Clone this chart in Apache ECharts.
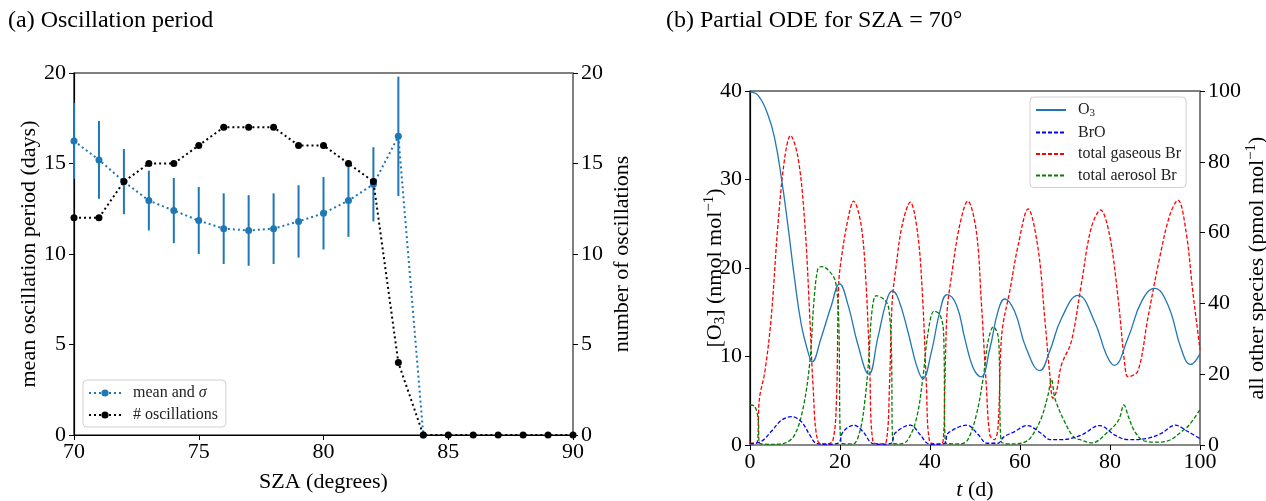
<!DOCTYPE html>
<html>
<head>
<meta charset="utf-8">
<script src="https://cdn.jsdelivr.net/npm/echarts@6/dist/echarts.min.js"></script>
<style>html,body{margin:0;padding:0;background:#fff}#c{width:1266px;height:501px}</style>
</head>
<body>
<div id="c"></div>
<script>
// ---------- Panel (a) data ----------
const sza = [70,71,72,73,74,75,76,77,78,79,80,81,82,83,84,85,86,87,88,89,90];
const meanPeriod = [16.25,15.2,14.0,12.95,12.4,11.85,11.4,11.3,11.4,11.8,12.25,12.95,13.85,16.5,0];
const sigmaPeriod = [2.1,2.15,1.8,1.65,1.8,1.85,1.95,1.95,1.95,2.0,2.0,2.0,2.05,3.3,0];
const numOsc = [12,12,14,15,15,16,17,17,17,16,16,15,14,4,0,0,0,0,0,0,0];

// ---------- Panel (b) data ----------
const o3T = [0,1.8,4,5.5,7,8.4,9.9,11.4,12.9,13.8,15.8,18.1,19.9,21.8,24,26.4,28.4,30.3,31.6,32.9,35.1,37,38.4,40.3,42.2,43.8,45.9,47.7,49.6,51.3,53.3,55.1,56.6,58.8,61.4,64.4,66.6,69.2,72.9,76.6,79.2,80.9,84,87,89.9,92.9,95.8,97.9,100];
const o3V = [39.9,39.5,37.3,34.6,30.1,24.9,18.8,13.6,10.5,9.4,12.1,15.8,18.2,15.8,11.3,8.0,12.1,16.2,17.4,16.6,12.8,9.0,7.5,10.5,15.1,17.0,15.8,12.1,8.7,7.7,10.9,15.1,16.5,15.1,10.9,8.4,10.6,14.3,16.9,13.9,10.2,9.0,12.1,16.2,17.7,15.8,10.9,9.1,10.3];

const brT = [0,2.5,4.7,7,9.2,11.4,13.3,14.7,17,19.6,20.7,23.1,25.1,27.1,29,31.4,32.2,35.6,37.9,39.4,41.5,43.3,44,48.2,50.8,52.6,55.1,56.4,58.8,61.6,64.7,66.7,69.2,73.6,77.7,81.1,84,88.4,91.4,94.5,97.3,100];
const brV = [0.3,1,3.8,7,8,6.6,2.8,0.5,0.2,0.5,3.8,5.6,3.8,0.5,0.2,0.5,3.3,5.6,2.8,0.5,0.2,0.5,3.3,5.6,2.8,0.5,0.5,2.3,3.8,5.5,3.3,1.5,1.5,2.8,5.5,2.8,1.5,1.9,3.3,5.6,3.8,1.8];

const gasT = [0,1.4,2.1,3.3,4.7,6.2,7.7,9.0,10.7,12.2,13.3,14.0,15.1,17,18.4,19.2,19.7,20.3,21.8,23.0,24.7,25.8,26.6,27.3,29,30.3,31.0,31.6,32.5,33.8,35.6,37.3,38.4,39.2,39.9,41.5,42.9,43.3,43.8,44.7,46.6,48.4,50.3,51.4,52.5,53.3,54.3,55.1,55.7,56.2,57.7,59.6,61.8,64,65.5,66.7,67.3,68.1,69.2,71.4,73.6,75.8,77.9,79.9,81.8,83.3,84,86.2,88.4,91,93.3,95.1,96.9,98.4,100];
const gasV = [0.5,0.5,13.2,20.7,35.8,62.1,81,87.4,81,62.1,35.8,17,1,0.3,1.2,12.2,45.2,52.7,64,68.9,62.1,45.2,21.7,1,0.3,1,17,40.5,50.8,62,68.6,59.3,40.5,17,1,0.3,1,17,37.7,47.1,62.1,68.9,60.3,40.5,17,2.8,1.5,4.7,26.4,33.9,43.3,56.5,66.7,55.6,35.8,18.8,13.2,15.1,22.6,29.2,45.2,61.2,66.4,59.3,41.4,22.6,19.3,20.9,35.8,52.7,65,69.2,60.3,43.3,27];

const aeroT = [0,1,1.8,2.1,5,7.7,9.9,11.8,13.3,14.2,15.1,16,17.7,19,19.7,20.3,22.9,24.4,25.5,26.4,27.1,28.1,29.9,30.8,31.4,31.8,33.5,35.1,37,38.4,39.6,40.9,42.2,43,43.5,46.8,48.4,50.3,51.8,52.9,54.1,55.1,55.4,55.8,58.5,61,62.5,64.7,66.2,67,67.8,69.9,71.9,73.6,76,79.6,81.9,83.1,84.1,85.5,87.5,90.8,93.5,95.9,97.5,100];
const aeroV = [11.3,11,7.5,0.5,0.2,0.5,2.8,10.4,23.5,40.5,49.9,50.4,49,46.1,35.8,0.5,0.3,3.8,12.2,24.5,37.7,42.2,41,38.8,28.2,0.5,0.3,1.5,7.5,18.8,32,37.8,36.8,32,0.5,0.3,1.5,8.5,18.8,29.2,33.4,31,24.5,1,0.3,0.8,2.3,7.5,14,18.5,13,6.6,2.3,1.4,0.6,3.8,7,11.3,8,3.8,1.2,0.8,1.5,3.8,5.5,10];

const FONT = 'Liberation Serif';
const BLUE = '#1f77b4';
const pair = (xs, ys) => xs.map((x, i) => [x, ys[i]]);

const chart = echarts.init(document.getElementById('c'), null, {renderer: 'canvas'});

function yAxisBase(extra) {
  return Object.assign({
    type: 'value',
    nameLocation: 'middle',
    nameRotate: 90,
    nameMoveOverlap: false,
    nameTextStyle: {fontFamily: FONT, fontSize: 22, color: '#000'},
    axisLine: {show: true, lineStyle: {color: '#000', width: 1.2}},
    axisTick: {show: true, inside: false, length: 5, lineStyle: {color: '#000', width: 1}},
    axisLabel: {fontFamily: FONT, fontSize: 22, color: '#000', margin: 8},
    splitLine: {show: false}
  }, extra);
}

const legendText = {
  fontFamily: FONT, fontSize: 16, color: '#222',
  rich: {
    g: {width: 7, height: 10},
    a: {fontFamily: FONT, fontSize: 16, color: '#222', lineHeight: 18, verticalAlign: 'middle'},
    i: {fontFamily: FONT, fontSize: 16, fontStyle: 'italic', color: '#222', lineHeight: 18, verticalAlign: 'middle'},
    s: {fontFamily: FONT, fontSize: 11, color: '#222', lineHeight: 11, verticalAlign: 'bottom'}
  }
};
const noSym = {opacity: 0};

const option = {
  animation: false,
  backgroundColor: '#fff',
  title: [
    {text: '(a) Oscillation period', left: 3, top: 4,
     textStyle: {fontFamily: FONT, fontSize: 24, fontWeight: 'normal', color: '#000'}},
    {text: '(b) Partial ODE for SZA = 70°', left: 661, top: 4,
     textStyle: {fontFamily: FONT, fontSize: 24, fontWeight: 'normal', color: '#000'}}
  ],
  grid: [
    {left: 74, top: 73, width: 499, height: 362, show: true, borderColor: '#000', borderWidth: 1.2,
     backgroundColor: 'transparent', containLabel: false, outerBoundsMode: 'none'},
    {left: 750, top: 91, width: 450, height: 354, show: true, borderColor: '#000', borderWidth: 1.2,
     backgroundColor: 'transparent', containLabel: false, outerBoundsMode: 'none'}
  ],
  legend: [
    {
      id: 'legA',
      left: 83, top: 380, orient: 'vertical',
      data: ['mean and σ', '# oscillations'],
      itemWidth: 32, itemHeight: 9, itemGap: 6,
      padding: [5, 8, 4, 5],
      borderColor: '#d0d0d0', borderWidth: 1, borderRadius: 4,
      backgroundColor: 'rgba(255,255,255,0.85)',
      selectedMode: false,
      formatter: function (n) { return n === 'mean and σ' ? '{g|}{a|mean and }{i|σ}' : '{g|}{a|' + n + '}'; },
      textStyle: legendText
    },
    {
      id: 'legB',
      left: 1030, top: 97, orient: 'vertical',
      data: [{name: 'O3', itemStyle: noSym}, {name: 'BrO', itemStyle: noSym},
             {name: 'total gaseous Br', itemStyle: noSym}, {name: 'total aerosol Br', itemStyle: noSym}],
      itemWidth: 30, itemHeight: 12, itemGap: 5.5,
      padding: [5, 5, 4, 5],
      borderColor: '#d0d0d0', borderWidth: 1, borderRadius: 4,
      backgroundColor: 'rgba(255,255,255,0.85)',
      selectedMode: false,
      formatter: function (n) { return n === 'O3' ? '{g|}{a|O}{s|3}' : '{g|}{a|' + n + '}'; },
      textStyle: legendText
    }
  ],
  xAxis: [
    {
      gridIndex: 0, type: 'value', min: 70, max: 90, interval: 5,
      name: 'SZA (degrees)', nameLocation: 'middle', nameGap: 36,
      nameTextStyle: {fontFamily: FONT, fontSize: 22, color: '#000'},
      axisLine: {show: true, onZero: false, lineStyle: {color: '#000', width: 1.2}},
      axisTick: {show: true, length: 5, lineStyle: {color: '#000'}},
      axisLabel: {fontFamily: FONT, fontSize: 22, color: '#000', margin: 6},
      splitLine: {show: false}
    },
    {
      gridIndex: 1, type: 'value', min: 0, max: 100, interval: 20,
      name: '{i|t}{a| (d)}', nameLocation: 'middle', nameGap: 34,
      nameTextStyle: {fontFamily: FONT, fontSize: 22, color: '#000',
        rich: {i: {fontFamily: FONT, fontSize: 22, fontStyle: 'italic', color: '#000'},
               a: {fontFamily: FONT, fontSize: 22, color: '#000'}}},
      axisLine: {show: true, onZero: false, lineStyle: {color: '#888', width: 2}},
      axisTick: {show: true, length: 5, lineStyle: {color: '#000'}},
      axisLabel: {fontFamily: FONT, fontSize: 22, color: '#000', margin: 6},
      splitLine: {show: false}
    }
  ],
  yAxis: [
    yAxisBase({gridIndex: 0, position: 'left', min: 0, max: 20, interval: 5,
      name: 'mean oscillation period (days)', nameGap: 34}),
    yAxisBase({gridIndex: 0, position: 'right', min: 0, max: 20, interval: 5,
      name: 'number of oscillations', nameGap: 38,
      axisLine: {show: true, lineStyle: {color: '#888', width: 1.5}}}),
    yAxisBase({gridIndex: 1, position: 'left', min: 0, max: 40, interval: 10,
      name: '{a|[O}{s|3}{a|] (nmol mol}{p|−1}{a|)}', nameGap: 22,
      nameTextStyle: {fontFamily: FONT, fontSize: 22, color: '#000',
        rich: {a: {fontFamily: FONT, fontSize: 22, color: '#000', lineHeight: 26, verticalAlign: 'middle'},
               s: {fontFamily: FONT, fontSize: 15, color: '#000', lineHeight: 15, verticalAlign: 'bottom'},
               p: {fontFamily: FONT, fontSize: 15, color: '#000', lineHeight: 15, verticalAlign: 'top'}}}}),
    yAxisBase({gridIndex: 1, position: 'right', min: 0, max: 100, interval: 20,
      name: '{a|all other species (pmol mol}{p|−1}{a|)}', nameGap: 44,
      axisLine: {show: true, lineStyle: {color: '#888', width: 1.5}},
      nameTextStyle: {fontFamily: FONT, fontSize: 22, color: '#000',
        rich: {a: {fontFamily: FONT, fontSize: 22, color: '#000', lineHeight: 26, verticalAlign: 'middle'},
               p: {fontFamily: FONT, fontSize: 15, color: '#000', lineHeight: 15, verticalAlign: 'top'}}}})
  ],
  series: [
    {
      name: 'errbars', type: 'custom', xAxisIndex: 0, yAxisIndex: 0, z: 2,
      data: meanPeriod.slice(0, 14).map((m, i) => [sza[i], m, sigmaPeriod[i]]),
      encode: {x: 0, y: 1},
      renderItem: function (params, api) {
        const x = api.value(0), m = api.value(1), s = api.value(2);
        const a = api.coord([x, m + s]);
        const b = api.coord([x, m - s]);
        return {type: 'line', shape: {x1: a[0], y1: a[1], x2: b[0], y2: b[1]},
                style: {stroke: BLUE, lineWidth: 2}};
      }
    },
    {
      name: 'mean and σ', type: 'line', xAxisIndex: 0, yAxisIndex: 0, z: 3,
      data: pair(sza.slice(0, meanPeriod.length), meanPeriod),
      symbol: 'circle', symbolSize: 7,
      itemStyle: {color: BLUE},
      lineStyle: {color: BLUE, width: 2, type: [2, 3]}
    },
    {
      name: '# oscillations', type: 'line', xAxisIndex: 0, yAxisIndex: 1, z: 4,
      data: pair(sza, numOsc),
      symbol: 'circle', symbolSize: 7,
      itemStyle: {color: '#000'},
      lineStyle: {color: '#000', width: 2, type: [2, 3]}
    },
    {
      name: 'total gaseous Br', type: 'line', xAxisIndex: 1, yAxisIndex: 3, z: 3,
      data: pair(gasT, gasV), symbol: 'none', smooth: 0.35,
      itemStyle: {color: '#ff0000'},
      lineStyle: {color: '#ff0000', width: 1.3, type: [4, 2]}
    },
    {
      name: 'total aerosol Br', type: 'line', xAxisIndex: 1, yAxisIndex: 3, z: 3,
      data: pair(aeroT, aeroV), symbol: 'none', smooth: 0.35,
      itemStyle: {color: '#008000'},
      lineStyle: {color: '#008000', width: 1.3, type: [4, 2]}
    },
    {
      name: 'BrO', type: 'line', xAxisIndex: 1, yAxisIndex: 3, z: 3,
      data: pair(brT, brV), symbol: 'none', smooth: 0.35,
      itemStyle: {color: '#0000ff'},
      lineStyle: {color: '#0000ff', width: 1.3, type: [4, 2]}
    },
    {
      name: 'O3', type: 'line', xAxisIndex: 1, yAxisIndex: 2, z: 4,
      data: pair(o3T, o3V), symbol: 'none', smooth: 0.45,
      itemStyle: {color: BLUE},
      lineStyle: {color: BLUE, width: 1.3}
    }
  ]
};
chart.setOption(option);
</script>
</body>
</html>
